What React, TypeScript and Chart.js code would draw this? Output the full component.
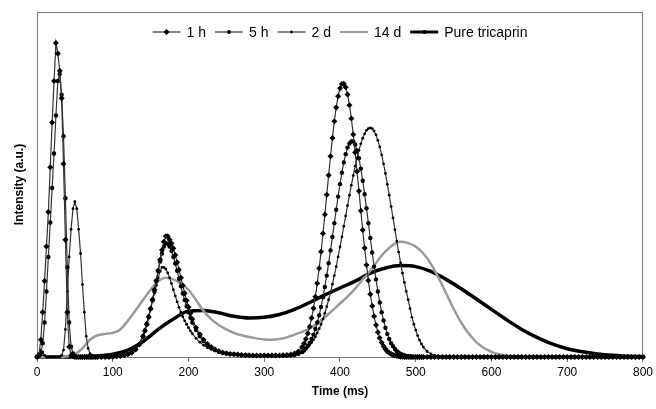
import React, { useEffect, useRef } from "react";
import { Chart, registerables } from "chart.js";

Chart.register(...registerables);

// Time axis (ms) for the marker series (denser around the peaks)
const markerTimes = [
  0, 2.5, 5, 7.5, 10, 12.5, 15, 17.5, 20, 22.5, 25, 27.5, 30, 32.5, 35, 37.5, 40, 42.5, 45, 47.5, 50, 52.5, 55, 57.5, 60, 62.5, 65, 67.5, 70, 72.5, 75, 77.5, 80,
  85, 90, 95, 100, 105, 110, 115, 120, 125, 130, 135,
  140, 142.5, 145, 147.5, 150, 152.5, 155, 157.5, 160, 162.5, 165, 167.5, 170, 172.5, 175, 177.5, 180, 182.5, 185, 187.5, 190, 192.5, 195, 197.5, 200, 202.5, 205,
  210, 215, 220, 225, 230, 235, 240, 245, 250, 255, 260, 265, 270, 275, 280, 285, 290, 295, 300, 305, 310, 315, 320, 325, 330, 335, 340, 345,
  350, 352.5, 355, 357.5, 360, 362.5, 365, 367.5, 370, 372.5, 375, 377.5, 380, 382.5, 385, 387.5, 390, 392.5, 395, 397.5,
  400, 402.5, 405, 407.5, 410, 412.5, 415, 417.5, 420, 422.5, 425, 427.5, 430, 432.5, 435, 437.5, 440, 442.5, 445, 447.5,
  450, 452.5, 455, 457.5, 460, 462.5, 465, 467.5, 470, 472.5, 475, 477.5, 480, 482.5, 485, 487.5, 490, 492.5, 495, 497.5,
  500, 502.5, 505, 507.5, 510,
  515, 520, 525, 530, 535, 540, 545, 550, 555, 560, 565, 570, 575, 580, 585, 590, 595, 600, 605, 610,
  615, 620, 625, 630, 635, 640, 645, 650, 655, 660, 665, 670, 675, 680, 685, 690, 695, 700, 705, 710,
  715, 720, 725, 730, 735, 740, 745, 750, 755, 760, 765, 770, 775, 780, 785, 790, 795, 800,
];

const oneHour = [
  0, 0.5, 5, 13, 22, 32, 42, 55, 68, 80, 91, 88, 83, 75, 56, 34, 13, 3, 0.5, 0.2, 0, 0, 0, 0, 0, 0, 0, 0, 0, 0, 0, 0, 0,
  0, 0, 0, 0.1, 0.2, 0.3, 0.5, 0.8, 1.3, 2.2, 3.6,
  6, 7.6, 9.5, 11.6, 14, 16.7, 19.5, 22.2, 25, 28.2, 31, 33.4, 35, 35, 34, 33, 31.5, 29.6, 27.5, 25.3, 23, 20.7, 18.5, 16.4, 14.5, 12.7, 11,
  8.5, 6.5, 5, 3.8, 2.9, 2.2, 1.7, 1.3, 1.1, 0.9, 0.8, 0.7, 0.6, 0.5, 0.5, 0.4, 0.4, 0.4, 0.4, 0.4, 0.4, 0.4, 0.4, 0.5, 0.6, 0.7, 1, 1.6,
  2.9, 3.9, 5.2, 6.8, 8.8, 11.3, 14.1, 17.5, 21.4, 25.7, 30.5, 35.8, 41.3, 47, 52.7, 58.2, 63.5, 68.3, 72.3, 75.6,
  77.9, 79.1, 79.2, 78.2, 76.1, 73, 69.1, 64.5, 59.3, 53.8, 48.1, 42.4, 36.8, 31.6, 26.7, 22.2, 18.2, 14.8, 11.8, 9.3,
  7.2, 5.5, 4.2, 3.1, 2.3, 1.6, 1.2, 0.85, 0.6, 0.4, 0.3, 0.2, 0.1, 0.05, 0, 0, 0, 0, 0, 0,
  0, 0, 0, 0, 0,
  0, 0, 0, 0, 0, 0, 0, 0, 0, 0, 0, 0, 0, 0, 0, 0, 0, 0, 0, 0,
  0, 0, 0, 0, 0, 0, 0, 0, 0, 0, 0, 0, 0, 0, 0, 0, 0, 0, 0, 0,
  0, 0, 0, 0, 0, 0, 0, 0, 0, 0, 0, 0, 0, 0, 0, 0, 0, 0,
];

const fiveHours = [
  0, 0.3, 1, 4, 10, 19, 29, 39, 49, 59, 70, 80, 82, 76, 64, 46, 26, 10, 3, 1, 0.3, 0, 0, 0, 0, 0, 0, 0, 0, 0, 0, 0, 0,
  0, 0, 0, 0.1, 0.2, 0.3, 0.5, 0.8, 1.3, 2.2, 3.6,
  6, 7.6, 9.5, 11.6, 14, 16.4, 19, 22, 25, 27.7, 30, 32, 33, 32.8, 32, 30.7, 29, 27.1, 25, 22.7, 20.5, 18.4, 16.5, 14.7, 13, 11.4, 10,
  7.8, 6, 4.6, 3.5, 2.7, 2, 1.5, 1.2, 1, 0.9, 0.8, 0.7, 0.6, 0.5, 0.5, 0.4, 0.4, 0.4, 0.4, 0.4, 0.4, 0.4, 0.4, 0.4, 0.4, 0.5, 0.6, 0.9,
  1.4, 1.9, 2.5, 3.2, 4.1, 5.2, 6.5, 8.1, 10, 12.1, 14.5, 17.3, 20.3, 23.6, 27.2, 30.9, 34.8, 38.8, 42.7, 46.5,
  50.1, 53.4, 56.4, 58.8, 60.7, 61.9, 62.5, 62.5, 61.6, 59.9, 57.6, 54.6, 51.1, 47.2, 43.1, 38.8, 34.5, 30.3, 26.2, 22.5,
  19, 15.8, 13, 10.6, 8.5, 6.7, 5.2, 4, 3.1, 2.3, 1.7, 1.25, 0.9, 0.65, 0.5, 0.3, 0.2, 0.15, 0.1, 0.05,
  0, 0, 0, 0, 0,
  0, 0, 0, 0, 0, 0, 0, 0, 0, 0, 0, 0, 0, 0, 0, 0, 0, 0, 0, 0,
  0, 0, 0, 0, 0, 0, 0, 0, 0, 0, 0, 0, 0, 0, 0, 0, 0, 0, 0, 0,
  0, 0, 0, 0, 0, 0, 0, 0, 0, 0, 0, 0, 0, 0, 0, 0, 0, 0,
];

const twoDays = [
  0, 1, 2, 1.5, 0.5, 0, 0, 0, 0, 0, 0, 0, 0, 0.5, 2, 8, 19, 29, 37, 43, 45, 43, 37, 30, 21, 13, 6, 2.5, 1, 0.5, 0.3, 0.2, 0.2,
  0.2, 0.2, 0.2, 0.2, 0.3, 0.4, 0.6, 0.9, 1.4, 2.3, 3.7,
  6.3, 8, 10, 12, 14, 16.2, 18.5, 20.8, 23, 24.8, 26, 26, 25.5, 24.4, 23, 21.3, 19.5, 17.7, 16, 14.4, 13, 11.7, 10.5, 9.5, 8.5, 7.6, 6.8,
  5.4, 4.3, 3.4, 2.7, 2.2, 1.8, 1.5, 1.2, 1, 0.9, 0.8, 0.7, 0.6, 0.5, 0.5, 0.4, 0.4, 0.4, 0.4, 0.4, 0.4, 0.4, 0.4, 0.4, 0.4, 0.5, 0.7, 1.1,
  1.6, 2, 2.4, 2.9, 3.5, 4.2, 5, 5.9, 7, 8.2, 9.5, 11, 12.7, 14.6, 16.6, 18.7, 21.1, 23.6, 26.2, 29,
  31.9, 34.8, 37.9, 40.9, 43.9, 46.9, 49.8, 52.6, 55.3, 57.7, 59.9, 61.8, 63.4, 64.7, 65.7, 66.2, 66.4, 66.2, 65.5, 64.4,
  62.8, 60.9, 58.6, 56, 53.2, 50.1, 46.9, 43.6, 40.3, 36.9, 33.6, 30.4, 27.3, 24.3, 21.6, 19, 16.6, 14, 11.5, 9.5,
  7.8, 6.2, 4.9, 3.8, 2.9,
  1.6, 0.9, 0.5, 0.3, 0.15, 0.1, 0.05, 0, 0, 0, 0, 0, 0, 0, 0, 0, 0, 0, 0, 0,
  0, 0, 0, 0, 0, 0, 0, 0, 0, 0, 0, 0, 0, 0, 0, 0, 0, 0, 0, 0,
  0, 0, 0, 0, 0, 0, 0, 0, 0, 0, 0, 0, 0, 0, 0, 0, 0, 0,
];

// 14 d series, every 10 ms
const grayTimes = [
  0, 10, 20, 30, 40, 50, 60, 70, 80, 90, 100, 110, 120, 130, 140, 150, 160, 170, 180, 190,
  200, 210, 220, 230, 240, 250, 260, 270, 280, 290, 300, 310, 320, 330, 340, 350, 360, 370, 380, 390,
  400, 410, 420, 430, 440, 450, 460, 470, 480, 490, 500, 510, 520, 530, 540, 550, 560, 570, 580, 590,
  600, 610, 620, 630, 640, 650, 660, 670, 680, 690, 700, 710, 720, 730, 740, 750, 760, 770, 780, 790, 800,
];
const fourteenDays = [
  0, 0, 0, 0, 0.2, 0.8, 2.5, 5, 6.3, 6.7, 7, 8, 10.5, 13.5, 16.5, 19.5, 22, 23, 22.5, 21.3,
  19.5, 16.5, 13.3, 11, 9.3, 8, 7, 6.3, 5.8, 5.4, 5.1, 5, 5.2, 5.7, 6.5, 7.3, 8.3, 9.8, 11.5, 13.5,
  15.5, 17.5, 19.8, 22.5, 25, 28, 30.6, 32.5, 33.4, 33, 32, 30, 27, 23, 18.5, 14, 10, 6.8, 4.3, 2.6,
  1.5, 0.8, 0.4, 0.2, 0.1, 0, 0, 0, 0, 0, 0, 0, 0, 0, 0, 0, 0, 0, 0, 0, 0,
];

// Pure tricaprin, every 20 ms
const pureTimes = [
  0, 20, 40, 60, 80, 100, 120, 140, 160, 180, 200, 220, 240, 260, 280, 300, 320, 340, 360, 380,
  400, 420, 440, 460, 480, 500, 520, 540, 560, 580, 600, 620, 640, 660, 680, 700, 720, 740, 760, 780, 800,
];
const pureTricaprin = [
  0, 0, 0, 0.1, 0.3, 0.8, 2, 4.5, 8, 11, 13.3, 13.5, 12.8, 11.8, 11.3, 11.5, 12.3, 13.8, 15.8, 18,
  20, 22, 24.3, 25.8, 26.5, 26.2, 24.8, 22.5, 19.8, 16.8, 13.8, 10.8, 8, 5.7, 3.8, 2.4, 1.5, 0.9, 0.5, 0.2, 0.1,
];

const xTicks = [0, 100, 200, 300, 400, 500, 600, 700, 800];
const seriesLabels = ["1 h", "5 h", "2 d", "14 d", "Pure tricaprin"];
const xTitle = "Time (ms)";
const yTitle = "Intensity (a.u.)";

const FONT = '"Liberation Sans", Arial, Helvetica, sans-serif';

const toPoints = (times: number[], vals: number[]) =>
  times.map((t, i) => ({ x: t, y: vals[i] }));

const framePlugin = {
  id: "frame",
  beforeDatasetsDraw(chart: any) {
    const { ctx, chartArea: a } = chart;
    ctx.save();
    ctx.strokeStyle = "#7a7a7a";
    ctx.lineWidth = 1;
    ctx.strokeRect(Math.round(a.left) + 0.5, Math.round(a.top) + 0.5, Math.round(a.right - a.left) - 1, Math.round(a.bottom - a.top));
    ctx.restore();
  },
};

const legendPlugin = {
  id: "inlineLegend",
  afterDatasetsDraw(chart: any) {
    const { ctx, chartArea: a } = chart;
    const datasets = chart.data.datasets;
    ctx.save();
    ctx.font = `14px ${FONT}`;
    const symW = 28;
    const gapText = 6;
    const gapItem = 9;
    const widths = datasets.map((ds: any) => symW + gapText + ctx.measureText(ds.label).width);
    const total = widths.reduce((s: number, w: number) => s + w, 0) + gapItem * (datasets.length - 1);
    let x = (a.left + a.right) / 2 - total / 2;
    const y = a.top + 20;
    datasets.forEach((ds: any, i: number) => {
      ctx.save();
      ctx.strokeStyle = ds.borderColor;
      ctx.lineWidth = ds.legendLineWidth;
      ctx.beginPath();
      ctx.moveTo(x, y);
      ctx.lineTo(x + symW, y);
      ctx.stroke();
      const cx = x + symW / 2;
      ctx.fillStyle = "#000";
      if (ds.legendMarker === "diamond") {
        ctx.beginPath();
        ctx.moveTo(cx, y - 3);
        ctx.lineTo(cx + 3, y);
        ctx.lineTo(cx, y + 3);
        ctx.lineTo(cx - 3, y);
        ctx.closePath();
        ctx.fill();
      } else if (ds.legendMarker) {
        ctx.beginPath();
        ctx.arc(cx, y, ds.legendMarker, 0, Math.PI * 2);
        ctx.fill();
      }
      ctx.restore();
      ctx.fillStyle = "#000";
      ctx.textBaseline = "middle";
      ctx.textAlign = "left";
      ctx.fillText(ds.label, x + symW + gapText, y + 1);
      x += widths[i] + gapItem;
    });
    ctx.restore();
  },
};

export default function App() {
  const ref = useRef<HTMLCanvasElement>(null);

  useEffect(() => {
    const markerBase = {
      borderColor: "#333",
      borderWidth: 1.2,
      pointBackgroundColor: "#000",
      pointBorderColor: "#000",
      pointBorderWidth: 0,
      clip: 6,
      legendLineWidth: 1.2,
    };
    const chart = new Chart(ref.current as HTMLCanvasElement, {
      type: "line",
      data: {
        datasets: [
          {
            ...markerBase,
            label: seriesLabels[0],
            data: toPoints(markerTimes, oneHour),
            pointStyle: "rectRot",
            pointRadius: 3,
            legendMarker: "diamond",
          },
          {
            ...markerBase,
            label: seriesLabels[1],
            data: toPoints(markerTimes, fiveHours),
            pointStyle: "circle",
            pointRadius: 2.2,
            legendMarker: 2,
          },
          {
            ...markerBase,
            label: seriesLabels[2],
            data: toPoints(markerTimes, twoDays),
            pointStyle: "circle",
            pointRadius: 1.4,
            legendMarker: 1.4,
          },
          {
            label: seriesLabels[3],
            data: toPoints(grayTimes, fourteenDays),
            borderColor: "#9a9a9a",
            borderWidth: 2.5,
            pointRadius: 0,
            cubicInterpolationMode: "monotone",
            clip: 6,
            legendLineWidth: 2,
            legendMarker: 0,
          },
          {
            label: seriesLabels[4],
            data: toPoints(pureTimes, pureTricaprin),
            borderColor: "#000",
            borderWidth: 3.5,
            pointRadius: 0,
            cubicInterpolationMode: "monotone",
            clip: 6,
            legendLineWidth: 3,
            legendMarker: 2,
          },
        ] as any,
      },
      options: {
        responsive: false,
        animation: false,
        events: [],
        layout: { padding: { left: 0, right: 13, top: 12, bottom: 0 } },
        plugins: {
          legend: { display: false },
          tooltip: { enabled: false },
        },
        scales: {
          x: {
            type: "linear",
            min: 0,
            max: 800,
            afterBuildTicks: (s: any) => {
              s.ticks = xTicks.map((v) => ({ value: v }));
            },
            afterFit: (s: any) => {
              s.height = 52;
            },
            ticks: {
              color: "#000",
              font: { family: FONT, size: 12 },
              padding: 3,
              maxRotation: 0,
            },
            grid: { display: true, drawOnChartArea: false, drawTicks: true, tickLength: 5, color: "#7a7a7a" },
            border: { display: true, color: "#7a7a7a" },
            title: {
              display: true,
              text: xTitle,
              color: "#000",
              font: { family: FONT, size: 12, weight: "bold" },
              padding: { top: 0, bottom: 10 },
            },
          },
          y: {
            type: "linear",
            min: 0,
            max: 100,
            afterFit: (s: any) => {
              s.width = 37;
            },
            ticks: { display: false },
            grid: { display: false },
            border: { display: true, color: "#7a7a7a" },
            title: {
              display: true,
              text: yTitle,
              color: "#000",
              font: { family: FONT, size: 12, weight: "bold" },
              padding: { top: 12, bottom: 0 },
            },
          },
        },
      } as any,
      plugins: [framePlugin, legendPlugin],
    });
    return () => chart.destroy();
  }, []);

  return (
    <div style={{ position: "fixed", left: 0, top: 0, width: 656, height: 409, background: "#fff" }}>
      <canvas ref={ref} width={656} height={409} style={{ display: "block" }} />
    </div>
  );
}
